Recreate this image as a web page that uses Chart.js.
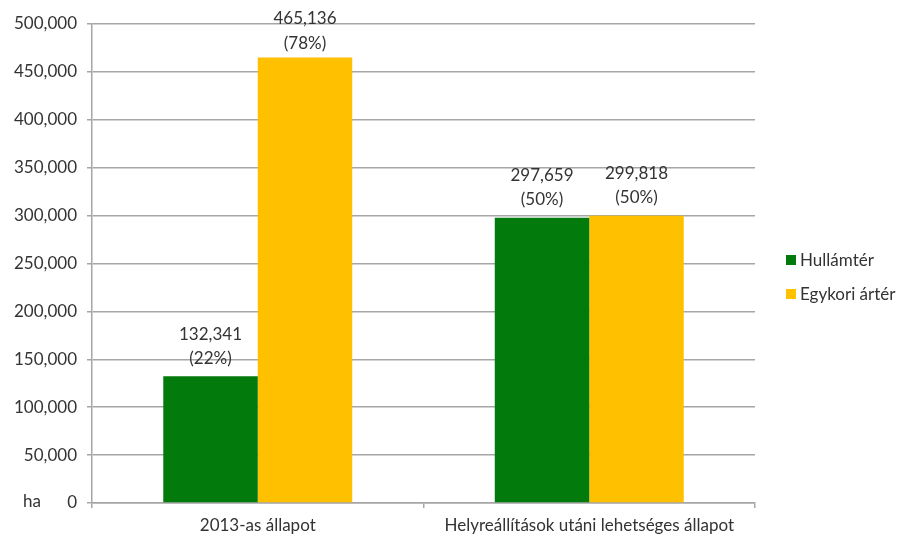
<!DOCTYPE html>
<html>
<head>
<meta charset="utf-8">
<script src="https://cdn.jsdelivr.net/npm/chart.js@4"></script>
<style>
  html, body { margin: 0; padding: 0; background: #fff; }
  #wrap { width: 900px; height: 538px; position: relative; }
</style>
</head>
<body>
<div id="wrap"><canvas id="areaChart" width="900" height="538"></canvas></div>
<script>
const categories = ["2013-as állapot", "Helyreállítások utáni lehetséges állapot"];
const seriesNames = ["Hullámtér", "Egykori ártér"];
const hullamter = [132341, 297659];
const egykoriArter = [465136, 299818];
const percents = [[22, 50], [78, 50]];
const seriesColors = ["#027A0C", "#FFC000"];
const yTicks = [0, 50000, 100000, 150000, 200000, 250000, 300000, 350000, 400000, 450000, 500000];
const unitLabel = "ha";

const FONT = "Lato, 'Open Sans', sans-serif";
const FSIZE = 17;
const TEXT = "#333333";
const GRID = "#A6A6A6";

const fmt = n => n.toLocaleString("en-US");

// value + percentage above each bar, two lines
const barLabels = {
    id: "barLabels",
    afterDatasetsDraw(chart) {
        const ctx = chart.ctx;
        ctx.save();
        ctx.font = FSIZE + "px " + FONT;
        ctx.fillStyle = TEXT;
        ctx.textAlign = "center";
        ctx.textBaseline = "middle";
        chart.data.datasets.forEach((ds, di) => {
            chart.getDatasetMeta(di).data.forEach((bar, i) => {
                let y2 = bar.y - 18;
                let y1 = y2 - 24;
                if (y1 < 19) { y1 = 19; y2 = 44; }
                ctx.fillText(fmt(ds.data[i]), bar.x, y1);
                ctx.fillText("(" + percents[di][i] + "%)", bar.x, y2);
            });
        });
        ctx.restore();
    }
};

// unit next to the zero tick, and the legend on the right
const extras = {
    id: "extras",
    afterDraw(chart) {
        const ctx = chart.ctx;
        const y0 = chart.scales.y.getPixelForValue(0);
        ctx.save();
        ctx.font = FSIZE + "px " + FONT;
        ctx.fillStyle = TEXT;
        ctx.textBaseline = "middle";
        ctx.textAlign = "left";
        ctx.fillText(unitLabel, 23, y0 - 1);

        const lx = 786, ly = 260;
        seriesNames.forEach((name, i) => {
            const cy = ly + i * 34;
            ctx.fillStyle = seriesColors[i];
            ctx.fillRect(lx, cy - 5, 10, 10);
            ctx.fillStyle = TEXT;
            ctx.fillText(name, lx + 14, cy + 1);
        });
        ctx.restore();
    }
};

new Chart(document.getElementById("areaChart"), {
    type: "bar",
    data: {
        labels: categories,
        datasets: [
            { label: seriesNames[0], data: hullamter, backgroundColor: seriesColors[0] },
            { label: seriesNames[1], data: egykoriArter, backgroundColor: seriesColors[1] }
        ]
    },
    options: {
        responsive: false,
        animation: false,
        layout: { padding: { top: 24, right: 145, left: 0, bottom: 0 } },
        datasets: { bar: { categoryPercentage: 0.57, barPercentage: 1.0, borderWidth: 0 } },
        plugins: { legend: { display: false }, tooltip: { enabled: false } },
        scales: {
            x: {
                grid: { drawOnChartArea: false, drawTicks: true, tickLength: 5, offset: true, color: GRID, lineWidth: 1.5 },
                border: { color: GRID, width: 1.5 },
                ticks: { color: TEXT, font: { family: FONT, size: FSIZE }, padding: 7, maxRotation: 0 },
                afterFit(s) { s.height = 35; }
            },
            y: {
                min: 0,
                max: 500000,
                afterBuildTicks(s) { s.ticks = yTicks.map(v => ({ value: v })); },
                grid: { color: GRID, lineWidth: 1.5, tickLength: 5 },
                border: { color: GRID, width: 1.5 },
                ticks: { color: TEXT, font: { family: FONT, size: FSIZE }, padding: 10, callback: v => fmt(v) },
                afterFit(s) { s.width = 92; }
            }
        }
    },
    plugins: [barLabels, extras]
});
</script>
</body>
</html>
